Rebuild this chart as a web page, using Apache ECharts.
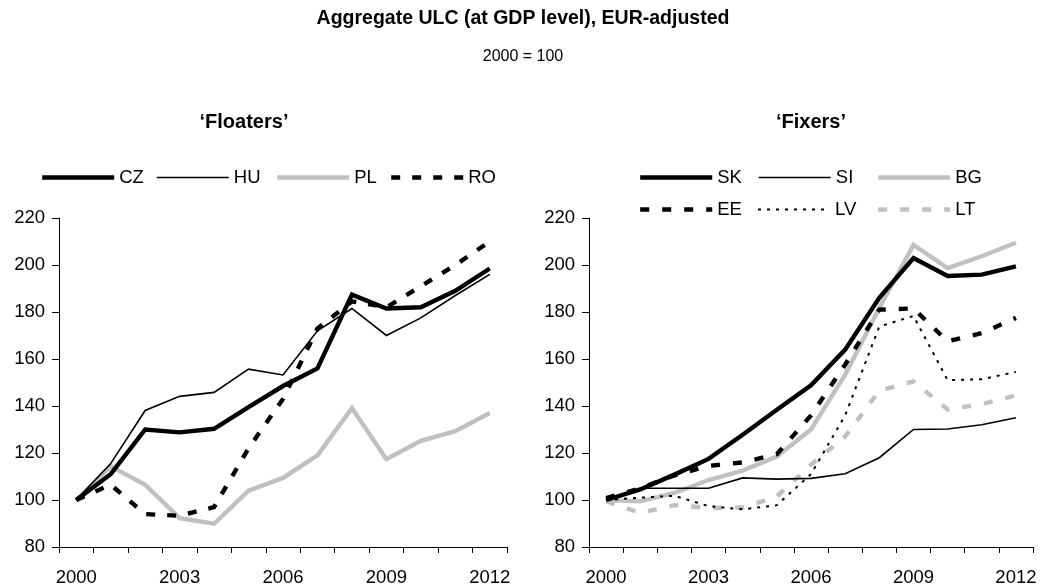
<!DOCTYPE html>
<html>
<head>
<meta charset="utf-8">
<script src="https://cdn.jsdelivr.net/npm/echarts@6/dist/echarts.min.js"></script>
<style>
html, body { margin: 0; padding: 0; background: #fff; }
#chart { width: 1046px; height: 588px; }
</style>
</head>
<body>
<div id="chart"></div>
<script>
const years = ['2000','2001','2002','2003','2004','2005','2006','2007','2008','2009','2010','2011','2012'];
const yTicks = { min: 80, max: 220, interval: 20 };

// 'Floaters'
const CZ = [100, 111, 130, 128.8, 130.3, 139.5, 148.5, 156, 187.4, 181.5, 182, 189, 198.5];
const HU = [100, 115.5, 138.1, 144.1, 145.8, 155.7, 153.2, 172, 181.5, 170, 177.5, 187, 196];
const PL = [100, 114.3, 106.5, 92.3, 89.9, 104, 109.4, 119, 139.1, 117.4, 125.2, 129.3, 137];
const RO = [100, 106.5, 94, 93.3, 97, 122, 143, 173, 184.5, 182, 191, 200, 210];

// 'Fixers'
const SK = [100, 104.5, 110.8, 117.5, 127.8, 138.4, 148.8, 164, 186, 203, 195.3, 195.9, 199.4];
const SI = [100, 105, 105, 105, 109.4, 108.9, 109.2, 111.2, 118, 130, 130.2, 132, 135];
const BG = [100, 99.4, 103, 108.5, 112.5, 118.5, 130, 153.3, 181.7, 208.5, 198.7, 203.7, 209.5];
const EE = [100.8, 105, 110.5, 114.5, 116, 119.5, 136, 157.6, 181, 181.5, 167.5, 171, 177.5];
const LV = [100, 101, 101.8, 97.4, 96, 97.8, 111, 136, 173.8, 178.3, 151, 151.4, 154.5];
const LT = [99.5, 94.5, 97.8, 96.6, 96.8, 101.5, 115, 127, 146.5, 150.5, 138.5, 140.8, 144.5];

const FONT = '"Liberation Sans", Arial, sans-serif';
const BLACK = '#000000';
const GREY = '#c0c0c0';

const styles = {
  CZ: { color: BLACK, width: 4.4, type: 'solid' },
  HU: { color: BLACK, width: 1.6, type: 'solid' },
  PL: { color: GREY, width: 4.4, type: 'solid' },
  RO: { color: BLACK, width: 4.4, type: [9, 12] },
  SK: { color: BLACK, width: 4.4, type: 'solid' },
  SI: { color: BLACK, width: 1.6, type: 'solid' },
  BG: { color: GREY, width: 4.4, type: 'solid' },
  EE: { color: BLACK, width: 4.4, type: [9, 13] },
  LV: { color: BLACK, width: 2, type: [3, 6] },
  LT: { color: GREY, width: 4.4, type: [9, 13] }
};

function mkSeries(name, data, idx) {
  const s = styles[name];
  return {
    name: name, type: 'line', data: data,
    xAxisIndex: idx, yAxisIndex: idx,
    symbol: 'none', smooth: false, animation: false,
    color: s.color,
    lineStyle: { color: s.color, width: s.width, type: s.type, cap: 'butt', join: 'miter' },
    z: 2
  };
}

function mkLegend(name, left, top) {
  const s = styles[name];
  return {
    data: [name], left: left, top: top, padding: 0,
    itemWidth: 72, itemHeight: 12, itemGap: 0,
    itemStyle: { opacity: 0 },
    lineStyle: { width: s.width, type: s.type, color: s.color, cap: 'butt' },
    textStyle: { fontFamily: FONT, fontSize: 18.5, color: BLACK, padding: [0, 0, 0, 0] },
    selectedMode: false
  };
}

function mkX(idx) {
  return {
    type: 'category', gridIndex: idx, data: years, boundaryGap: true,
    axisLine: { show: true, lineStyle: { color: BLACK, width: 1 } },
    axisTick: { show: true, interval: 0, length: 6, inside: false, lineStyle: { color: BLACK } },
    axisLabel: { interval: 2, margin: 21, color: BLACK, fontFamily: FONT, fontSize: 18.5 },
    splitLine: { show: false }
  };
}
function mkY(idx) {
  return {
    type: 'value', gridIndex: idx, min: yTicks.min, max: yTicks.max, interval: yTicks.interval,
    axisLine: { show: true, lineStyle: { color: BLACK, width: 1 } },
    axisTick: { show: true, length: 7, lineStyle: { color: BLACK } },
    axisLabel: { margin: 14, color: BLACK, fontFamily: FONT, fontSize: 18.5 },
    splitLine: { show: false }
  };
}

const chart = echarts.init(document.getElementById('chart'), null, { renderer: 'canvas' });
chart.setOption({
  backgroundColor: '#ffffff',
  animation: false,
  title: [
    { text: 'Aggregate ULC (at GDP level), EUR-adjusted', left: 523, textAlign: 'center', top: 9, padding: 0,
      textStyle: { fontFamily: FONT, fontSize: 19.5, fontWeight: 'bold', color: BLACK } },
    { text: '2000 = 100', left: 523, textAlign: 'center', top: 49, padding: 0,
      textStyle: { fontFamily: FONT, fontSize: 16, fontWeight: 'normal', color: BLACK } },
    { text: '\u2018Floaters\u2019', left: 244, textAlign: 'center', top: 112, padding: 0,
      textStyle: { fontFamily: FONT, fontSize: 20, fontWeight: 'bold', color: BLACK } },
    { text: '\u2018Fixers\u2019', left: 811, textAlign: 'center', top: 112, padding: 0,
      textStyle: { fontFamily: FONT, fontSize: 20, fontWeight: 'bold', color: BLACK } }
  ],
  legend: [
    mkLegend('CZ', 40, 168), mkLegend('HU', 156, 168), mkLegend('PL', 275, 168), mkLegend('RO', 389, 168),
    mkLegend('SK', 638, 168), mkLegend('SI', 758, 168), mkLegend('BG', 876, 168),
    mkLegend('EE', 638, 200), mkLegend('LV', 757, 200), mkLegend('LT', 876, 200)
  ],
  grid: [
    { left: 59, right: 539, top: 218, bottom: 41, containLabel: false },
    { left: 589, right: 13, top: 218, bottom: 41, containLabel: false }
  ],
  xAxis: [mkX(0), mkX(1)],
  yAxis: [mkY(0), mkY(1)],
  series: [
    mkSeries('PL', PL, 0), mkSeries('RO', RO, 0), mkSeries('HU', HU, 0), mkSeries('CZ', CZ, 0),
    mkSeries('LT', LT, 1), mkSeries('BG', BG, 1), mkSeries('LV', LV, 1), mkSeries('EE', EE, 1),
    mkSeries('SI', SI, 1), mkSeries('SK', SK, 1)
  ]
});
</script>
</body>
</html>
